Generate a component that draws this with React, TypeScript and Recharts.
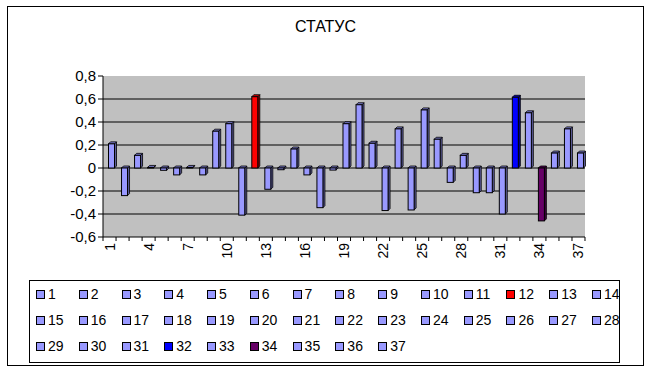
import React from 'react';
import { BarChart, Bar, XAxis, YAxis, CartesianGrid, Legend } from 'recharts';

const chartTitle = 'СТАТУС';

const categories = [
  '1', '2', '3', '4', '5', '6', '7', '8', '9', '10', '11', '12', '13',
  '14', '15', '16', '17', '18', '19', '20', '21', '22', '23', '24', '25',
  '26', '27', '28', '29', '30', '31', '32', '33', '34', '35', '36', '37',
];

const statusValues = [
  0.21, -0.24, 0.11, 0.005, -0.02, -0.06, 0.005, -0.06, 0.32, 0.385, -0.41, 0.62, -0.185,
  -0.015, 0.165, -0.06, -0.345, -0.018, 0.385, 0.55, 0.215, -0.37, 0.34, -0.365, 0.505,
  0.25, -0.125, 0.11, -0.215, -0.215, -0.4, 0.615, 0.48, -0.46, 0.13, 0.34, 0.13,
];

const seriesColors = [
  '#9999FF', '#9999FF', '#9999FF', '#9999FF', '#9999FF', '#9999FF', '#9999FF', '#9999FF',
  '#9999FF', '#9999FF', '#9999FF', '#FF0000', '#9999FF', '#9999FF', '#9999FF', '#9999FF',
  '#9999FF', '#9999FF', '#9999FF', '#9999FF', '#9999FF', '#9999FF', '#9999FF', '#9999FF',
  '#9999FF', '#9999FF', '#9999FF', '#9999FF', '#9999FF', '#9999FF', '#9999FF', '#0000FF',
  '#9999FF', '#660066', '#9999FF', '#9999FF', '#9999FF',
];

const yTicks = [-0.6, -0.4, -0.2, 0, 0.2, 0.4, 0.6, 0.8];
const gridValues = [-0.4, -0.2, 0, 0.2, 0.4, 0.6];
const xLabelEvery = 3;
const legendColumns = 14;

const FONT = '"Liberation Sans", Arial, sans-serif';

const data = categories.map((cat, i) => {
  const row: Record<string, number | string> = { cat };
  categories.forEach((_, j) => {
    row[`s${j}`] = j === i ? statusValues[i] : 0;
  });
  return row;
});

function shade(hex: string, f: number): string {
  const n = parseInt(hex.slice(1), 16);
  const r = Math.round(((n >> 16) & 255) * f);
  const g = Math.round(((n >> 8) & 255) * f);
  const b = Math.round((n & 255) * f);
  return `rgb(${r},${g},${b})`;
}

const makeShape = (seriesIdx: number) => (p: any) => {
  if (!p || !p.payload || p.payload.cat !== categories[seriesIdx]) return <g />;
  const color = seriesColors[seriesIdx];
  const x = p.x + 1.5;
  const w = p.width;
  const top = Math.min(p.y, p.y + p.height);
  const h = Math.abs(p.height);
  const d = 2;
  return (
    <g>
      <polygon
        points={`${x + w},${top} ${x + w + d},${top - d} ${x + w + d},${top + h - d} ${x + w},${top + h}`}
        fill={shade(color, 0.6)}
        stroke="#000"
        strokeWidth={0.8}
      />
      <polygon
        points={`${x},${top} ${x + d},${top - d} ${x + w + d},${top - d} ${x + w},${top}`}
        fill={shade(color, 0.8)}
        stroke="#000"
        strokeWidth={0.8}
      />
      <rect x={x} y={top} width={w} height={h} fill={color} stroke="#000" strokeWidth={1} />
    </g>
  );
};

const XTick = (p: any) => {
  const { x, y, payload } = p;
  const idx = p.index ?? payload.index ?? 0;
  const axisY = y - 6;
  const half = 6.5;
  return (
    <g>
      <line x1={x - half} x2={x - half} y1={axisY} y2={axisY + 4} stroke="#000" />
      {idx === categories.length - 1 && (
        <line x1={x + half} x2={x + half} y1={axisY} y2={axisY + 4} stroke="#000" />
      )}
      {idx % xLabelEvery === 0 && (
        <text
          x={x}
          y={y}
          transform={`rotate(-90, ${x}, ${y})`}
          textAnchor="end"
          dominantBaseline="central"
          fontFamily={FONT}
          fontSize={14}
          fill="#000"
        >
          {payload.value}
        </text>
      )}
    </g>
  );
};

const LegendContent = (props: any) => {
  const items = [...(props.payload || [])].sort((a: any, b: any) => Number(a.value) - Number(b.value));
  return (
    <div
      style={{
        width: 591,
        height: 83,
        boxSizing: 'border-box',
        border: '1px solid #000',
        paddingLeft: 6,
        display: 'grid',
        gridTemplateColumns: `repeat(${legendColumns}, 42.77px)`,
        gridAutoRows: '26px',
        fontFamily: FONT,
        fontSize: 14,
        background: '#fff',
      }}
    >
      {items.map((it: any) => (
        <div
          key={it.value}
          style={{ height: 26, display: 'flex', alignItems: 'center', whiteSpace: 'nowrap' }}
        >
          <span
            style={{
              display: 'inline-block',
              width: 9,
              height: 9,
              boxSizing: 'border-box',
              border: '1px solid #000',
              background: it.color,
            }}
          />
          <span style={{ marginLeft: 3, color: '#000', lineHeight: '14px' }}>{it.value}</span>
        </div>
      ))}
    </div>
  );
};

export default function App() {
  return (
    <div style={{ position: 'absolute', left: 0, top: 0, width: 653, height: 374, background: '#fff' }}>
      <div
        style={{
          position: 'absolute',
          left: 7,
          top: 6,
          width: 637,
          height: 360,
          boxSizing: 'border-box',
          border: '1px solid #000',
        }}
      />
      <div
        style={{
          position: 'absolute',
          left: 0,
          top: 18,
          width: 651,
          textAlign: 'center',
          fontFamily: FONT,
          fontSize: 16,
          color: '#000',
        }}
      >
        {chartTitle}
      </div>
      <div style={{ position: 'absolute', left: 0, top: 0 }}>
        <BarChart
          width={653}
          height={374}
          data={data}
          margin={{ top: 76, right: 68, bottom: 113, left: 0 }}
          barSize={6}
        >
          <CartesianGrid
            fill="#C0C0C0"
            stroke="#000"
            vertical={false}
            horizontalValues={gridValues}
          />
          <XAxis
            dataKey="cat"
            interval={0}
            height={24}
            tickLine={false}
            tickSize={4}
            tickMargin={2}
            axisLine={{ stroke: '#000' }}
            tick={<XTick />}
          />
          <YAxis
            width={103}
            domain={[-0.6, 0.8]}
            ticks={yTicks}
            allowDataOverflow
            tickSize={5}
            tickMargin={2}
            axisLine={{ stroke: '#000' }}
            tickLine={{ stroke: '#000' }}
            tick={{ fontFamily: FONT, fontSize: 15, fill: '#000' }}
            tickFormatter={(v: number) => (v === 0 ? '0' : v.toFixed(1).replace('.', ','))}
          />
          <Legend
            layout="horizontal"
            verticalAlign="middle"
            align="center"
            wrapperStyle={{ left: 29, top: 280, width: 591, height: 83 }}
            content={<LegendContent />}
          />
          {categories.map((c, i) => (
            <Bar
              key={c}
              dataKey={`s${i}`}
              name={c}
              stackId="a"
              fill={seriesColors[i]}
              isAnimationActive={false}
              shape={makeShape(i)}
            />
          ))}
        </BarChart>
      </div>
    </div>
  );
}
